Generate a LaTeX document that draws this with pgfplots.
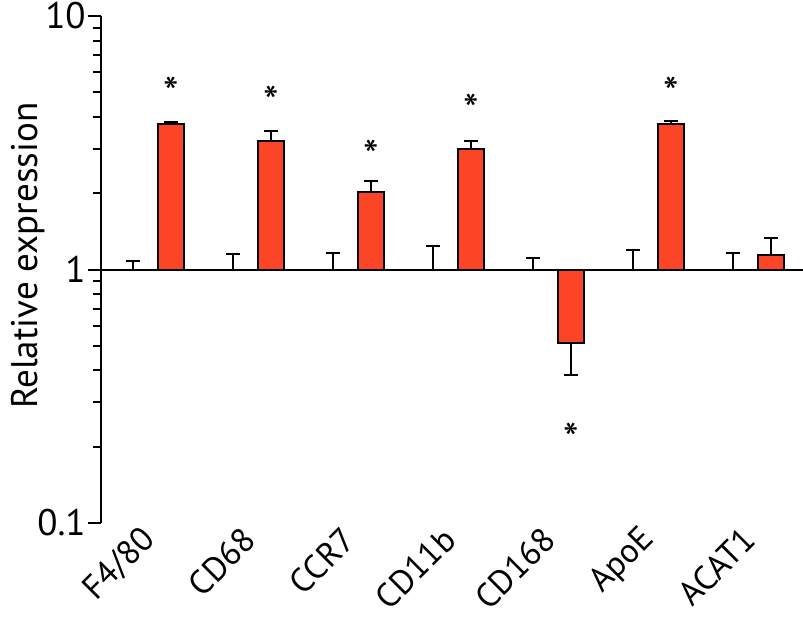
\documentclass[border=0pt]{standalone}
\usepackage{pgfplots}
\pgfplotsset{compat=1.18}
\usepackage{fontspec}
\setmainfont{PT Sans}
\definecolor{barred}{RGB}{252,68,38}

\begin{document}
\begin{tikzpicture}
\begin{axis}[
  scale only axis,
  width=351pt, height=253.5pt,
  ymode=log, log origin y=0,
  ymin=0.1, ymax=10,
  xmin=-0.51, xmax=6.51,
  axis x line=bottom, axis y line=left,
  axis line style={-, line width=1pt, black},
  x axis line style={draw=none},
  xtick={0,...,6},
  xticklabels={F4/80,CD68,CCR7,CD11b,CD168,ApoE,ACAT1},
  xtick style={draw=none},
  xticklabel style={rotate=45, anchor=east, font=\fontsize{17}{19}\selectfont, inner sep=0pt, yshift=1.5pt},
  ytick={0.1,1,10},
  yticklabels={0.1,1,10},
  minor ytick={0.2,0.3,0.4,0.5,0.6,0.7,0.8,0.9,2,3,4,5,6,7,8,9},
  tick align=outside,
  major tick length=6.5pt, minor tick length=4pt,
  every tick/.style={black, line width=1pt},
  yticklabel style={font=\fontsize{18.5}{20}\selectfont, inner sep=1pt},
  ylabel={Relative expression},
  ylabel style={font=\fontsize{18.5}{20}\selectfont, at={(rel axis cs:-0.104,0.527)}, anchor=center},
  clip=false,
]
\coordinate (BL) at (rel axis cs:0,0);
\coordinate (TR) at (rel axis cs:1,1);
\addplot[black, line width=1pt] coordinates {(-0.51,1) (6.51,1)};
% control
\addplot[ybar, bar width=13pt, bar shift=0pt, draw=none, fill=none,
  error bars/.cd, y dir=plus, y explicit,
  error bar style={line width=1pt, black},
  error mark options={rotate=90, line width=1pt, black, mark size=3.5pt}]
coordinates {
 (-0.19,1) += (0,0.085)
 (0.81,1) += (0,0.15)
 (1.81,1) += (0,0.16)
 (2.81,1) += (0,0.235)
 (3.81,1) += (0,0.11)
 (4.81,1) += (0,0.19)
 (5.81,1) += (0,0.16)
};
% treated
\addplot[ybar, bar width=13pt, bar shift=0pt, draw=black, line width=1pt, fill=barred,
  error bars/.cd, y dir=both, y explicit,
  error bar style={line width=1pt, black},
  error mark options={rotate=90, line width=1pt, black, mark size=3.5pt}]
coordinates {
 (0.19,3.75) += (0,0.06)
 (1.19,3.21) += (0,0.31)
 (2.19,2.03) += (0,0.21)
 (3.19,2.99) += (0,0.23)
 (4.19,0.514) -= (0,0.131)
 (5.19,3.76) += (0,0.10)
 (6.19,1.146) += (0,0.19)
};
\node[font=\fontsize{22}{22}\selectfont] at (axis cs:0.19,5.0) {*};
\node[font=\fontsize{22}{22}\selectfont] at (axis cs:1.19,4.6) {*};
\node[font=\fontsize{22}{22}\selectfont] at (axis cs:2.19,2.8) {*};
\node[font=\fontsize{22}{22}\selectfont] at (axis cs:3.19,4.25) {*};
\node[font=\fontsize{22}{22}\selectfont] at (axis cs:4.19,0.215) {*};
\node[font=\fontsize{22}{22}\selectfont] at (axis cs:5.19,5.0) {*};
\end{axis}
\pgfresetboundingbox
\path ([shift={(-50.5pt,-48.5pt)}]BL) rectangle ([shift={(0pt,8pt)}]TR);
\end{tikzpicture}
\end{document}
